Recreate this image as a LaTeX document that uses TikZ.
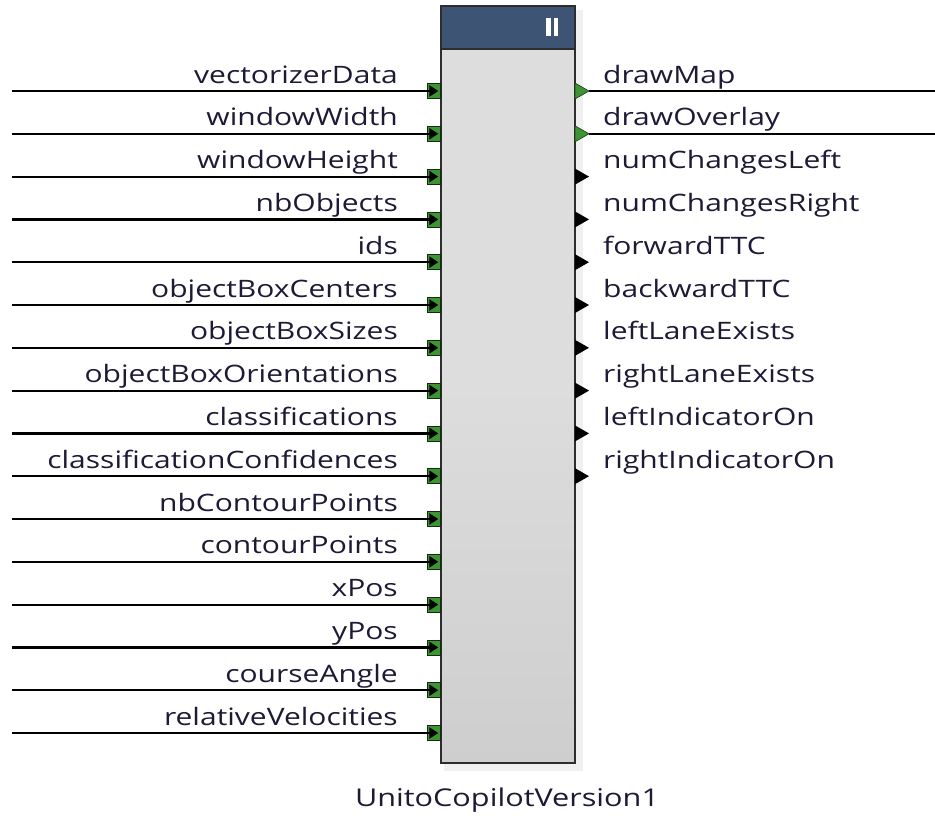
\documentclass[tikz,border=0pt]{standalone}
\usepackage{fontspec}
\setmainfont{Open Sans}[FakeStretch=1.25]
\usetikzlibrary{arrows.meta,calc}
\definecolor{hdr}{RGB}{61,84,116}
\definecolor{portg}{RGB}{62,148,52}
\definecolor{boxg}{RGB}{221,221,221}
\definecolor{boxd}{RGB}{206,206,206}
\definecolor{txt}{RGB}{28,26,52}
\definecolor{frame}{RGB}{45,45,45}
\tikzset{
  wire/.style={line width=2.2pt,black},
  inarrow/.style={wire,-{Triangle[length=9pt,width=11pt]}},
  inport/.style={draw=black!70!portg,fill=portg,line width=0.6pt,minimum width=13pt,minimum height=15pt,inner sep=0pt},
  inlabel/.style={anchor=base east,font=\fontsize{24}{28}\selectfont,text=txt,inner sep=0pt},
  outlabel/.style={anchor=base west,font=\fontsize{24}{28}\selectfont,text=txt,inner sep=0pt},
  greentri/.style={fill=portg,draw=black!60!portg,line width=0.6pt},
  blacktri/.style={fill=black},
}
\begin{document}
\begin{tikzpicture}[x=1pt,y=-1pt]
\useasboundingbox (0,0) rectangle (935,815);
% shadow
\fill[black!12] (446,12) rectangle (580,768);
\fill[black!6] (444,10) rectangle (583,771);
% block body
\node[draw=frame,line width=2pt,fill=boxg,minimum width=134pt,minimum height=757pt,inner sep=0pt,anchor=north west,
  path picture={\shade[left color=boxg,right color=boxd,middle color=boxg,shading angle=0] (path picture bounding box.south west) rectangle (path picture bounding box.north east);
  \shade[top color=boxg,bottom color=boxd] ([yshift=-30pt]path picture bounding box.south west) rectangle (path picture bounding box.south east);}] (blk) at (440,5) {};
\node[draw=frame,line width=2pt,fill=hdr,minimum width=134pt,minimum height=43pt,inner sep=0pt,anchor=north west] (hd) at (440,5) {};
\fill[white] (546,18) rectangle (550.5,36);
\fill[white] (553.5,18) rectangle (558,36);
% inputs
\foreach \nm [count=\i from 0] in {vectorizerData,windowWidth,windowHeight,nbObjects,ids,objectBoxCenters,objectBoxSizes,objectBoxOrientations,classifications,classificationConfidences,nbContourPoints,contourPoints,xPos,yPos,courseAngle,relativeVelocities}{
  \pgfmathsetmacro\yy{91+42.8*\i}
  \coordinate (is\i) at (12,\yy);
  \node[inport] (ip\i) at (433.5,\yy) {};
  \draw[inarrow] (is\i) -- ([xshift=-2pt]ip\i.east);
  \node[inlabel] (il\i) at (398,\yy-8) {\nm};
}
% outputs
\foreach \nm [count=\i from 0] in {drawMap,drawOverlay,numChangesLeft,numChangesRight,forwardTTC,backwardTTC,leftLaneExists,rightLaneExists,leftIndicatorOn,rightIndicatorOn}{
  \pgfmathsetmacro\yy{91+42.8*\i}
  \coordinate (ob\i) at (575,\yy);
  \coordinate (ot\i) at (589,\yy);
  \node[outlabel] (ol\i) at (603,\yy-8) {\nm};
}
\foreach \i in {0,1}{
  \coordinate (oe\i) at (935,91+42.8*\i);
  \draw[wire] (ot\i) -- (oe\i);
  \path[greentri] ($(ob\i)+(0,-8)$) -- (ot\i) -- ($(ob\i)+(0,8)$) -- cycle;
}
\foreach \i in {2,...,9}{
  \path[blacktri] ($(ob\i)+(0,-8)$) -- (ot\i) -- ($(ob\i)+(0,8)$) -- cycle;
}
\node[anchor=base,font=\fontsize{24.5}{28}\selectfont,text=txt,inner sep=0pt] (title) at (507,806) {UnitoCopilotVersion1};
\end{tikzpicture}
\end{document}
